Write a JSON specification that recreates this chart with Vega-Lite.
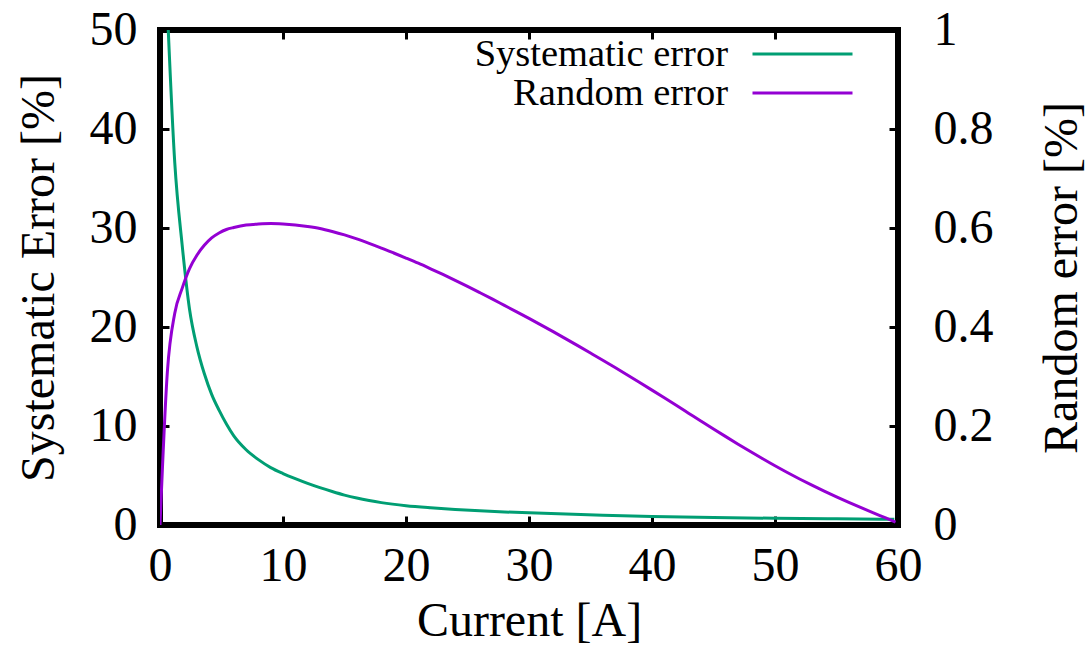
{
  "$schema": "https://vega.github.io/schema/vega-lite/v6.json",
  "width": 738,
  "height": 495,
  "autosize": {"type": "none"},
  "padding": {"left": 160, "top": 30, "right": 187, "bottom": 121},
  "background": "white",
  "datasets": {
    "sys": [
      {"current": 0.6, "error": 52.0},
      {"current": 1.2, "error": 36.6},
      {"current": 1.8, "error": 28.3},
      {"current": 2.4, "error": 21.8},
      {"current": 3.0, "error": 18.0},
      {"current": 3.6, "error": 15.3},
      {"current": 4.2, "error": 13.2},
      {"current": 4.8, "error": 11.6},
      {"current": 5.4, "error": 10.2},
      {"current": 6.0, "error": 9.0},
      {"current": 7.0, "error": 7.6},
      {"current": 8.0, "error": 6.6},
      {"current": 9.0, "error": 5.8},
      {"current": 10.0, "error": 5.2},
      {"current": 11.0, "error": 4.68},
      {"current": 12.0, "error": 4.2},
      {"current": 13.0, "error": 3.77},
      {"current": 14.0, "error": 3.38},
      {"current": 15.0, "error": 3.02},
      {"current": 16.0, "error": 2.72},
      {"current": 17.0, "error": 2.47},
      {"current": 18.0, "error": 2.26},
      {"current": 20.0, "error": 1.95},
      {"current": 22.0, "error": 1.74},
      {"current": 24.0, "error": 1.57},
      {"current": 26.0, "error": 1.43},
      {"current": 28.0, "error": 1.32},
      {"current": 30.0, "error": 1.23},
      {"current": 33.0, "error": 1.1},
      {"current": 36.0, "error": 0.99},
      {"current": 40.0, "error": 0.87},
      {"current": 45.0, "error": 0.76},
      {"current": 50.0, "error": 0.68},
      {"current": 55.0, "error": 0.62},
      {"current": 59.7, "error": 0.57}
    ],
    "rand": [
      {"current": 0.0, "error": 0.0},
      {"current": 0.6, "error": 0.31},
      {"current": 1.2, "error": 0.428},
      {"current": 1.8, "error": 0.478},
      {"current": 2.4, "error": 0.518},
      {"current": 3.0, "error": 0.545},
      {"current": 3.6, "error": 0.565},
      {"current": 4.2, "error": 0.58},
      {"current": 4.8, "error": 0.59},
      {"current": 5.4, "error": 0.597},
      {"current": 6.0, "error": 0.601},
      {"current": 7.0, "error": 0.606},
      {"current": 8.0, "error": 0.608},
      {"current": 9.0, "error": 0.609},
      {"current": 10.0, "error": 0.608},
      {"current": 11.0, "error": 0.606},
      {"current": 12.0, "error": 0.603},
      {"current": 13.0, "error": 0.599},
      {"current": 14.0, "error": 0.593},
      {"current": 15.0, "error": 0.586},
      {"current": 16.0, "error": 0.578},
      {"current": 17.0, "error": 0.569},
      {"current": 18.0, "error": 0.5595},
      {"current": 19.0, "error": 0.5495},
      {"current": 20.0, "error": 0.5393},
      {"current": 21.0, "error": 0.5288},
      {"current": 22.0, "error": 0.5176},
      {"current": 23.0, "error": 0.5061},
      {"current": 24.0, "error": 0.4942},
      {"current": 25.0, "error": 0.482},
      {"current": 26.0, "error": 0.4695},
      {"current": 27.0, "error": 0.4568},
      {"current": 28.0, "error": 0.4437},
      {"current": 29.0, "error": 0.4306},
      {"current": 30.0, "error": 0.4173},
      {"current": 31.0, "error": 0.4038},
      {"current": 32.0, "error": 0.3901},
      {"current": 33.0, "error": 0.376},
      {"current": 34.0, "error": 0.3618},
      {"current": 35.0, "error": 0.3474},
      {"current": 36.0, "error": 0.3329},
      {"current": 37.0, "error": 0.3181},
      {"current": 38.0, "error": 0.3031},
      {"current": 39.0, "error": 0.2879},
      {"current": 40.0, "error": 0.2725},
      {"current": 41.0, "error": 0.2569},
      {"current": 42.0, "error": 0.2412},
      {"current": 43.0, "error": 0.2254},
      {"current": 44.0, "error": 0.2096},
      {"current": 45.0, "error": 0.1939},
      {"current": 46.0, "error": 0.1785},
      {"current": 47.0, "error": 0.1633},
      {"current": 48.0, "error": 0.1484},
      {"current": 49.0, "error": 0.1338},
      {"current": 50.0, "error": 0.1196},
      {"current": 51.0, "error": 0.106},
      {"current": 52.0, "error": 0.093},
      {"current": 53.0, "error": 0.0805},
      {"current": 54.0, "error": 0.0685},
      {"current": 55.0, "error": 0.057},
      {"current": 56.0, "error": 0.0458},
      {"current": 57.0, "error": 0.035},
      {"current": 58.0, "error": 0.0245},
      {"current": 59.0, "error": 0.0143},
      {"current": 59.8, "error": 0.006}
    ]
  },
  "layer": [
    {
      "data": {"name": "sys"},
      "mark": {"type": "line", "clip": true, "strokeWidth": 3, "interpolate": "monotone"},
      "encoding": {
        "x": {
          "field": "current", "type": "quantitative",
          "scale": {"domain": [0, 60], "nice": false, "zero": false},
          "axis": {
            "orient": "bottom",
            "values": [0, 10, 20, 30, 40, 50, 60],
            "title": "Current [A]",
            "labelBaseline": "alphabetic",
            "labelPadding": 64,
            "titleBaseline": "alphabetic",
            "titleY": 110
          }
        },
        "y": {
          "field": "error", "type": "quantitative",
          "scale": {"domain": [0, 50], "nice": false},
          "axis": {
            "orient": "left",
            "values": [0, 10, 20, 30, 40, 50],
            "title": "Systematic Error [%]",
            "labelPadding": 32,
            "titleAngle": -90,
            "titleBaseline": "alphabetic",
            "titleAlign": "center",
            "titleX": -107
          }
        },
        "color": {
          "datum": "Systematic error", "type": "nominal",
          "scale": {"domain": ["Systematic error", "Random error"], "range": ["#009e73", "#9400d3"]},
          "legend": {
            "title": null,
            "orient": "none",
            "legendX": 623.25,
            "legendY": 4.75,
            "direction": "vertical",
            "symbolType": "M-10,0H10",
            "symbolSize": 100,
            "symbolStrokeWidth": 3,
            "symbolFillColor": "transparent",
            "rowPadding": 0,
            "padding": 0,
            "labelFont": "Liberation Serif",
            "labelFontSize": 38.5,
            "labelColor": "black",
            "labelAlign": "right",
            "labelOffset": -93.75,
            "labelLimit": 0
          }
        }
      }
    },
    {
      "data": {"name": "rand"},
      "mark": {"type": "line", "clip": true, "strokeWidth": 3, "interpolate": "monotone"},
      "encoding": {
        "x": {
          "field": "current", "type": "quantitative",
          "axis": {
            "orient": "top",
            "values": [0, 10, 20, 30, 40, 50, 60],
            "labels": false,
            "title": null
          }
        },
        "y": {
          "field": "error", "type": "quantitative",
          "scale": {"domain": [0, 1], "nice": false},
          "axis": {
            "orient": "right",
            "values": [0, 0.2, 0.4, 0.6, 0.8, 1],
            "format": "~g",
            "title": "Random error [%]",
            "labelPadding": 44,
            "titleAngle": -90,
            "titleBaseline": "alphabetic",
            "titleAlign": "center",
            "titleX": 178
          }
        },
        "color": {"datum": "Random error", "type": "nominal"}
      }
    }
  ],
  "resolve": {"scale": {"y": "independent"}, "axis": {"x": "independent"}},
  "config": {
    "view": {"stroke": "black", "strokeWidth": 6},
    "axis": {
      "domain": false,
      "grid": false,
      "ticks": true,
      "tickColor": "black",
      "tickWidth": 3,
      "tickSize": -9,
      "labelFont": "Liberation Serif",
      "titleFont": "Liberation Serif",
      "labelFontSize": 48,
      "titleFontSize": 48,
      "labelColor": "black",
      "titleColor": "black",
      "titleFontWeight": "normal",
      "labelFlush": false,
      "labelOverlap": false,
      "labelBound": false
    }
  }
}
